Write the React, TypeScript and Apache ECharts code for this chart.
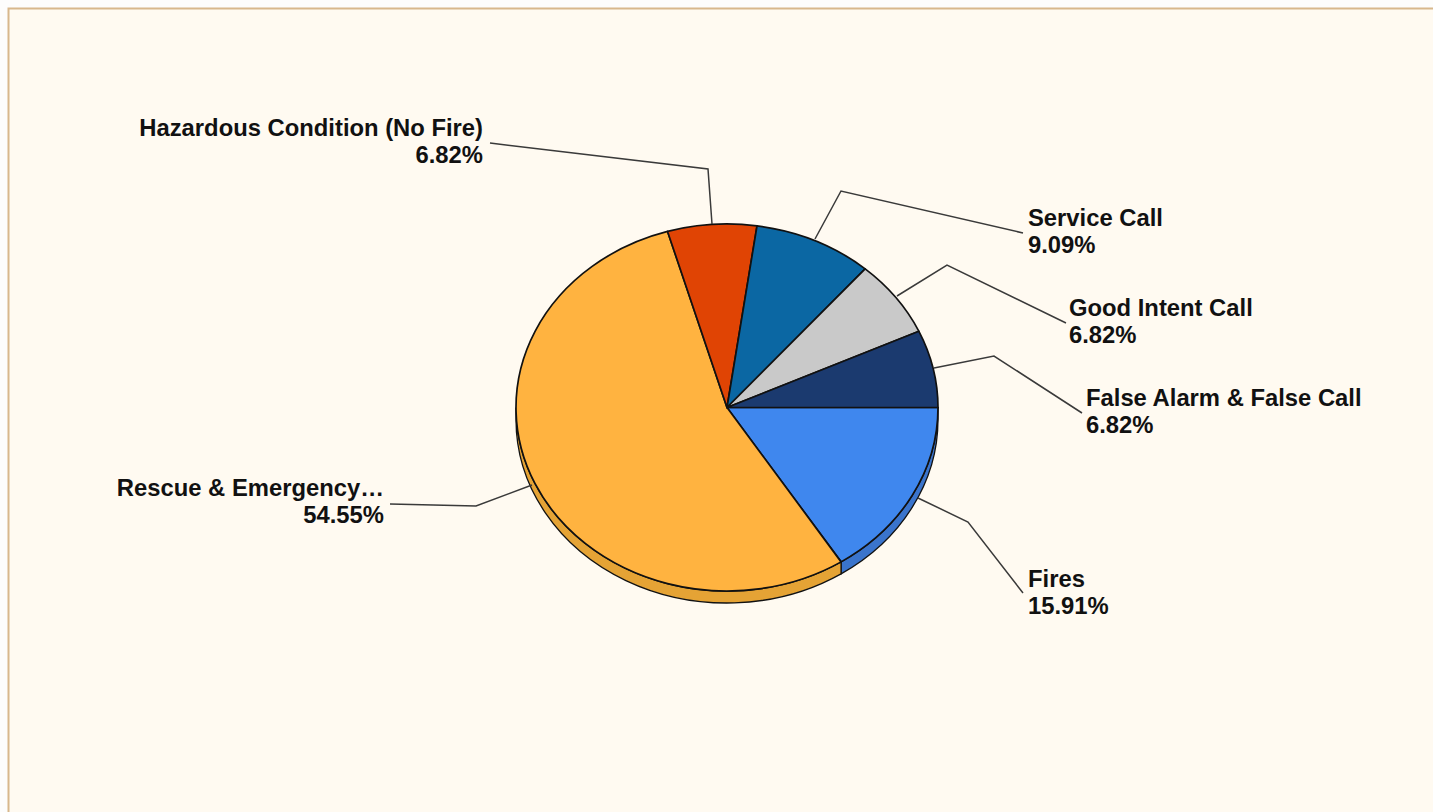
import React, { useEffect, useRef } from "react";
import * as echarts from "echarts";

const categories = [
  "Fires",
  "Rescue & Emergency…",
  "Hazardous Condition (No Fire)",
  "Service Call",
  "Good Intent Call",
  "False Alarm & False Call",
];
const counts = [7, 24, 3, 4, 3, 3];
const topColors = ["#3f87ee", "#ffb340", "#e04404", "#0b67a3", "#c9c9c9", "#1b3a6f"];
const wallColors = ["#3a74cc", "#e5a335", "#c03a04", "#0a5a8e", "#aaaaaa", "#15305c"];

const W = 1433;
const H = 812;
const CX = 727;
const CY = 407.5;
const RX = 211;
const RY = 183.5;
const DEPTH = 12;
const TEXT_FONT = 'bold 23.8px "Liberation Sans", Arial, sans-serif';
const LINE_COLOR = "#3a3a3a";

// Label layout, in the order of the categories
const labelAnchors: [number, number, "left" | "right"][] = [
  [1028, 578, "left"],
  [384, 487, "right"],
  [483, 127, "right"],
  [1028, 217, "left"],
  [1069, 307, "left"],
  [1086, 397, "left"],
];
const LINE_GAP = 27.5;
const leaders: number[][][] = [
  [[918, 498], [968, 522], [1023, 593]],
  [[532, 485], [476, 506], [390, 504]],
  [[712, 224], [708, 169], [490, 143]],
  [[815, 239], [841, 191], [1023, 233]],
  [[897, 296], [947, 265], [1066, 323]],
  [[934, 368], [994, 356], [1082, 413]],
];

const total = counts.reduce((a, b) => a + b, 0);
const angleAt = (i: number) =>
  (counts.slice(0, i).reduce((a, b) => a + b, 0) / total) * Math.PI * 2;
const pt = (a: number, dy = 0) => [CX + RX * Math.cos(a), CY + RY * Math.sin(a) + dy];

function slicePath(a1: number, a2: number) {
  const p1 = pt(a1);
  const p2 = pt(a2);
  const large = a2 - a1 > Math.PI ? 1 : 0;
  return `M${CX} ${CY}L${p1[0]} ${p1[1]}A${RX} ${RY} 0 ${large} 1 ${p2[0]} ${p2[1]}Z`;
}

function wallPath(a1: number, a2: number) {
  const p1 = pt(a1);
  const p2 = pt(a2);
  const q1 = pt(a1, DEPTH);
  const q2 = pt(a2, DEPTH);
  return (
    `M${p1[0]} ${p1[1]}A${RX} ${RY} 0 0 1 ${p2[0]} ${p2[1]}` +
    `L${q2[0]} ${q2[1]}A${RX} ${RY} 0 0 0 ${q1[0]} ${q1[1]}Z`
  );
}

export default function App() {
  const ref = useRef<HTMLDivElement>(null);
  useEffect(() => {
    document.body.style.margin = "0";
    const chart = echarts.init(ref.current!, undefined, { renderer: "svg" });
    chart.setOption({
      animation: false,
      backgroundColor: "#fdfdfc",
      graphic: [
        {
          type: "rect",
          z: 0,
          shape: { x: 8.5, y: 8.5, width: W + 20, height: H + 20 },
          style: { fill: "#fffaf1", stroke: "#d8b88c", lineWidth: 2 },
        },
      ],
      series: [
        {
          type: "custom",
          coordinateSystem: "none",
          z: 2,
          silent: true,
          data: counts,
          renderItem: (params: any) => {
            const i = params.dataIndex;
            const a1 = angleAt(i);
            const a2 = Math.min(angleAt(i + 1), Math.PI);
            if (a1 >= Math.PI) return { type: "group", children: [] };
            return {
              type: "path",
              shape: { pathData: wallPath(a1, a2) },
              style: { fill: wallColors[i], stroke: "#111", lineWidth: 1.3 },
            };
          },
        },
        {
          type: "custom",
          coordinateSystem: "none",
          z: 3,
          silent: true,
          data: counts,
          renderItem: (params: any) => {
            const i = params.dataIndex;
            return {
              type: "path",
              shape: { pathData: slicePath(angleAt(i), angleAt(i + 1)) },
              style: { fill: topColors[i], stroke: "#111", lineWidth: 1.7, lineJoin: "round" },
            };
          },
        },
        {
          type: "custom",
          coordinateSystem: "none",
          z: 4,
          silent: true,
          data: counts,
          renderItem: (params: any) => {
            const i = params.dataIndex;
            const [x, y, align] = labelAnchors[i];
            const pct = ((counts[i] / total) * 100).toFixed(2) + "%";
            const textStyle = (text: string, ty: number) => ({
              type: "text",
              style: {
                text,
                x,
                y: ty,
                align,
                verticalAlign: "middle",
                font: TEXT_FONT,
                fill: "#111",
              },
            });
            return {
              type: "group",
              children: [
                {
                  type: "polyline",
                  shape: { points: leaders[i] },
                  style: { fill: "none", stroke: LINE_COLOR, lineWidth: 1.5 },
                },
                textStyle(categories[i], y),
                textStyle(pct, y + LINE_GAP),
              ],
            };
          },
        },
      ],
    });
    return () => chart.dispose();
  }, []);
  return <div ref={ref} style={{ width: W, height: H }} />;
}
